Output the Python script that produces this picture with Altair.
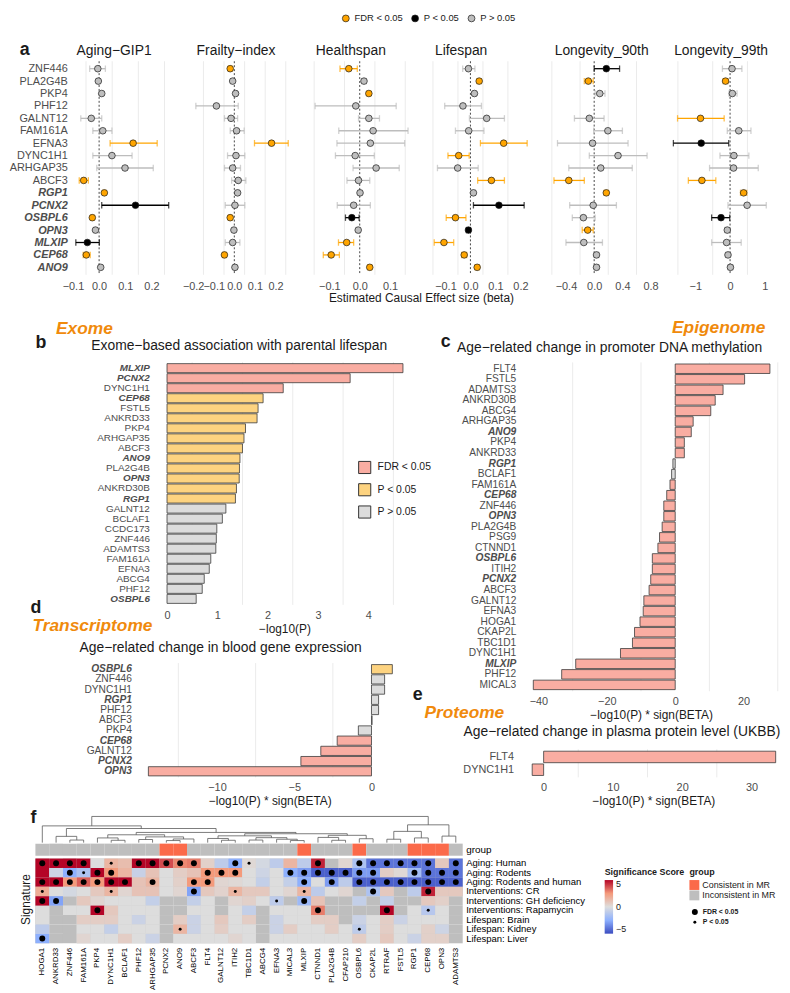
import json
import altair as alt
import pandas as pd

# ---------------- page geometry: reference pixels -> chart pixels
W, H = 782, 985
SX, SY = W / 790.0, H / 993.0


def px(v):
    return round(v * SX, 2)


def py(v):
    return round(v * SY, 2)


FONT = "Liberation Sans"
TXT = "#1A1A1A"
AXT = "#4D4D4D"
TITLE_ORANGE = "#F08A0C"
GRID = "#EBEBEB"

FDR, PS, NS = "FDR < 0.05", "P < 0.05", "P > 0.05"
CODE = {"F": FDR, "P": PS, "n": NS}

HIGHLIGHT = ["RGP1", "PCNX2", "OSBPL6", "OPN3", "MLXIP", "CEP68", "ANO9"]
HL_TEST = "indexof(%s, datum.value) >= 0" % json.dumps(HIGHLIGHT)

# ---------------- panel a : MR estimates
GENES_A = ["ZNF446", "PLA2G4B", "PKP4", "PHF12", "GALNT12", "FAM161A", "EFNA3", "DYNC1H1",
           "ARHGAP35", "ABCF3", "RGP1", "PCNX2", "OSBPL6", "OPN3", "MLXIP", "CEP68", "ANO9"]
A_NAMES = ["Aging−GIP1", "Frailty−index", "Healthspan", "Lifespan", "Longevity_90th", "Longevity_99th"]

AGING_BETA = [-0.005, -0.003, 0.010, None, -0.030, 0.014, 0.130, 0.049, 0.099, -0.059, 0.020, 0.139, -0.026, -0.014, -0.045, -0.049, 0.006]
AGING_LO = [-0.036, -0.010, 0.003, None, -0.070, -0.024, 0.042, -0.024, -0.009, -0.076, 0.014, 0.010, -0.032, -0.020, -0.089, -0.061, 0.000]
AGING_HI = [0.024, 0.004, 0.017, None, 0.010, 0.049, 0.222, 0.126, 0.207, -0.041, 0.026, 0.266, -0.020, -0.008, 0.001, -0.034, 0.012]
AGING_SIG = ["n", "n", "n", None, "n", "n", "F", "n", "n", "F", "F", "P", "F", "n", "P", "F", "n"]

FRAIL_BETA = [-0.020, -0.008, 0.006, -0.087, -0.016, 0.011, 0.181, 0.008, -0.008, 0.019, 0.016, 0.003, -0.020, -0.002, -0.008, -0.048, 0.003]
FRAIL_LO = [-0.028, -0.016, -0.002, -0.187, -0.048, -0.020, 0.098, -0.033, -0.048, -0.013, 0.008, -0.044, -0.028, -0.010, -0.044, -0.056, -0.005]
FRAIL_HI = [-0.012, 0.000, 0.014, 0.019, 0.016, 0.048, 0.262, 0.051, 0.030, 0.056, 0.024, 0.051, -0.012, 0.006, 0.027, -0.040, 0.011]
FRAIL_SIG = ["F", "n", "n", "n", "n", "n", "F", "n", "n", "n", "n", "n", "F", "n", "n", "F", "n"]

HEALTH_BETA = [-0.036, 0.014, 0.030, -0.013, 0.030, 0.044, 0.035, -0.015, 0.054, -0.004, 0.001, -0.020, -0.026, -0.005, -0.043, -0.094, 0.033]
HEALTH_LO = [-0.065, 0.006, 0.024, -0.147, -0.004, -0.069, -0.075, -0.080, -0.022, -0.042, -0.005, -0.074, -0.047, -0.011, -0.070, -0.120, 0.027]
HEALTH_HI = [-0.008, 0.022, 0.036, 0.120, 0.065, 0.159, 0.148, 0.048, 0.130, 0.033, 0.007, 0.035, -0.002, 0.001, -0.020, -0.067, 0.039]
HEALTH_SIG = ["F", "n", "F", "n", "n", "n", "n", "n", "n", "n", "n", "n", "P", "n", "F", "F", "F"]

LIFE_BETA = [-0.008, 0.035, 0.016, -0.030, 0.065, -0.007, 0.133, -0.047, -0.051, 0.084, 0.012, 0.114, -0.060, -0.008, -0.106, -0.025, 0.027]
LIFE_LO = [-0.031, 0.027, 0.008, -0.103, -0.004, -0.060, 0.040, -0.090, -0.132, 0.029, 0.004, 0.012, -0.097, -0.016, -0.145, -0.035, 0.019]
LIFE_HI = [0.018, 0.043, 0.024, 0.044, 0.136, 0.054, 0.227, -0.005, 0.031, 0.136, 0.020, 0.215, -0.018, 0.000, -0.067, -0.015, 0.035]
LIFE_SIG = ["n", "F", "n", "n", "n", "n", "F", "F", "n", "F", "n", "P", "F", "P", "F", "F", "F"]

L90_BETA = [0.172, -0.083, 0.079, None, -0.069, 0.194, -0.023, 0.338, 0.093, -0.360, 0.172, -0.014, -0.153, -0.092, -0.147, 0.033, 0.033]
L90_LO = [0.000, -0.140, 0.014, None, -0.280, -0.008, -0.520, -0.069, -0.360, -0.570, 0.140, -0.347, -0.310, -0.170, -0.400, 0.000, 0.000]
L90_HI = [0.360, -0.014, 0.153, None, 0.140, 0.400, 0.480, 0.750, 0.540, -0.140, 0.200, 0.315, 0.014, -0.014, 0.117, 0.066, 0.066]
L90_SIG = ["P", "F", "n", None, "n", "n", "n", "n", "n", "F", "F", "n", "n", "F", "n", "n", "n"]

L99_BETA = [0.056, -0.130, 0.066, None, -0.850, 0.250, -0.830, 0.110, 0.100, -0.810, 0.390, 0.490, -0.260, -0.080, -0.100, -0.060, 0.010]
L99_LO = [-0.220, -0.200, -0.030, None, -1.510, -0.080, -1.630, -0.290, -0.590, -1.200, 0.300, -0.060, -0.530, -0.150, -0.530, -0.130, -0.060]
L99_HI = [0.340, -0.060, 0.200, None, -0.170, 0.600, -0.040, 0.540, 0.810, -0.410, 0.480, 1.040, -0.010, -0.010, 0.320, 0.010, 0.080]
L99_SIG = ["n", "F", "n", None, "F", "n", "P", "n", "n", "F", "F", "n", "P", "n", "n", "n", "n"]

A_DATA = [
    (AGING_BETA, AGING_LO, AGING_HI, AGING_SIG),
    (FRAIL_BETA, FRAIL_LO, FRAIL_HI, FRAIL_SIG),
    (HEALTH_BETA, HEALTH_LO, HEALTH_HI, HEALTH_SIG),
    (LIFE_BETA, LIFE_LO, LIFE_HI, LIFE_SIG),
    (L90_BETA, L90_LO, L90_HI, L90_SIG),
    (L99_BETA, L99_LO, L99_HI, L99_SIG),
]
A_TICKS = [[-0.1, 0, 0.1, 0.2], [-0.2, -0.1, 0, 0.1, 0.2], [-0.1, 0, 0.1],
           [-0.1, 0, 0.1, 0.2], [-0.4, 0, 0.4, 0.8], [-1, 0, 1]]
A_MINOR = [[-0.05, 0.05, 0.15, 0.25], [-0.15, -0.05, 0.05, 0.15, 0.25], [-0.15, -0.05, 0.05, 0.15],
           [-0.15, -0.05, 0.05, 0.15], [-0.6, -0.2, 0.2, 0.6], [-1.5, -0.5, 0.5]]
A_FMT = [".1f", ".1f", ".1f", ".1f", ".1f", "d"]

# ---------------- panels b-e : bar charts
B_GENES = ["MLXIP", "PCNX2", "DYNC1H1", "CEP68", "FSTL5", "ANKRD33", "PKP4", "ARHGAP35", "ABCF3", "ANO9",
           "PLA2G4B", "OPN3", "ANKRD30B", "RGP1", "GALNT12", "BCLAF1", "CCDC173", "ZNF446", "ADAMTS3",
           "FAM161A", "EFNA3", "ABCG4", "PHF12", "OSBPL6"]
B_VALS = [4.69, 3.64, 2.31, 1.91, 1.81, 1.79, 1.56, 1.53, 1.50, 1.45, 1.44, 1.435, 1.38, 1.36,
          1.17, 1.10, 0.99, 0.98, 0.97, 0.87, 0.84, 0.74, 0.70, 0.58]
B_SIG = ["F", "F", "F", "P", "P", "P", "P", "P", "P", "P", "P", "P", "P", "P",
         "n", "n", "n", "n", "n", "n", "n", "n", "n", "n"]

C_GENES = ["FLT4", "FSTL5", "ADAMTS3", "ANKRD30B", "ABCG4", "ARHGAP35", "ANO9", "PKP4", "ANKRD33", "RGP1",
           "BCLAF1", "FAM161A", "CEP68", "ZNF446", "OPN3", "PLA2G4B", "PSG9", "CTNND1", "OSBPL6", "ITIH2",
           "PCNX2", "ABCF3", "GALNT12", "EFNA3", "HOGA1", "CKAP2L", "TBC1D1", "DYNC1H1", "MLXIP", "PHF12", "MICAL3"]
C_VALS = [27.7, 20.3, 14.0, 11.7, 10.4, 5.25, 4.7, 2.67, 2.67, -0.67, -1.05, -1.53, -2.48, -3.34, -3.34,
          -3.82, -4.58, -5.06, -6.69, -6.69, -7.16, -7.64, -9.17, -9.36, -10.3, -11.9, -12.5, -16.0,
          -29.1, -33.2, -41.5]
C_SIG = ["F", "F", "F", "F", "F", "F", "F", "F", "F", "n", "n", "F", "F", "F", "F", "F", "F", "F", "F", "F",
         "F", "F", "F", "F", "F", "F", "F", "F", "F", "F", "F"]

D_GENES = ["OSBPL6", "ZNF446", "DYNC1H1", "RGP1", "PHF12", "ABCF3", "PKP4", "CEP68", "GALNT12", "PCNX2", "OPN3"]
D_VALS = [1.35, 0.85, 0.85, 0.46, 0.46, 0.04, -0.85, -2.22, -3.28, -4.57, -14.44]
D_SIG = ["P", "n", "n", "n", "n", "n", "n", "F", "F", "F", "F"]

E_GENES = ["FLT4", "DYNC1H1"]
E_VALS = [33.5, -1.65]
E_SIG = ["F", "F"]

# ---------------- panel f : heatmap
HM_COLS = ["HOGA1", "ANKRD33", "ZNF446", "FAM161A", "PKP4", "DYNC1H1", "BCLAF1", "PHF12", "ARHGAP35",
           "PCNX2", "ANO9", "ABCF3", "FLT4", "GALNT12", "ITIH2", "TBC1D1", "ABCG4", "EFNA3", "MICAL3",
           "MLXIP", "CTNND1", "PLA2G4B", "CFAP210", "OSBPL6", "CKAP2L", "RTRAF", "FSTL5", "RGP1", "CEP68",
           "OPN3", "ADAMTS3"]
HM_ROWS = ["Aging: Human", "Aging: Rodents", "Aging: Rodents and human", "Interventions: CR",
           "Interventions: GH deficiency", "Interventions: Rapamycin", "Lifespan: Brain",
           "Lifespan: Kidney", "Lifespan: Liver"]
N = None
HM_HUMAN = [5, 5, 5, 5, 0, 1.5, 1.2, 5, 5, 3.8, 2.8, 3, 0.5, -1, -2.5, 0.2, -0.3, -1, 1.5, -1, 4.5, N, 0.3, -1.5, -4, -4, -4, -4, -4, 0.8, -4]
HM_RODENT = [5, -0.5, -2.5, -1.5, 5, 2.5, 1.5, -0.7, 1, 0, 0.6, 1, 2.5, 2.5, 2.5, 0, -0.5, 0, -2.5, -3, -4.5, -4.5, -4.5, -3, -3, 0.6, 0.2, -1.8, -4, -4, -4]
HM_BOTH = [5, 5, 2.5, 3.5, 2.5, 5, 5, 1, 1.5, 0, 0.5, 2.5, 2.5, 0.3, 0.2, 0, -0.8, 0, -0.8, -2.5, 0, -3, -1, -4.5, -4.5, -4.5, -4.5, -4.5, -4.5, -4.5, -4.5]
HM_CR = [1.8, 0, -0.3, 0, 0.8, 1.5, 0.3, 1, 1, 0, 0.3, -2.8, 0.8, 0.4, 1.5, 0.8, 0.8, 0, 0.3, 1.5, -1, 0, 0.3, N, -1.5, 0.8, N, -1, 4.5, 0.8, 0.8]
HM_GH = [5, -2.8, N, 0.8, 0.3, 0, 0, 0, -0.8, N, N, -0.8, 0, N, 0.3, 0.5, 0, -1, N, -2, 1, N, N, -0.8, N, -0.8, N, N, 0.8, 0.5, N]
HM_RAPA = [0, N, 0, 0, 5, 0.8, 0, 0, 0, N, N, 0, 0, N, 0, -0.8, N, 0, 0, 0, 3, N, N, N, N, 5, N, 0, -1.2, 0, N]
HM_BRAIN = [0, N, N, 0.6, 0.6, 0.6, 0, -0.6, 0, N, 0.6, -0.6, 0, 0.8, 0, 0.6, N, -0.6, 0, 0, 0.6, 0.6, N, -0.6, 0, 0.6, -0.6, 0, 0, 0, N]
HM_KIDNEY = [-1, N, N, 0, 0, -0.8, 0, 0, 0, N, 1.5, -0.6, 0, 0.6, 0, 0, N, -0.6, 0.6, 0, 0, 0.6, 0, -1, 0, 0.6, 0, 0, 0.5, -0.5, N]
HM_LIVER = [-2.5, N, N, 0.3, 0, 0, 0.6, 0, -0.6, N, 0, 0, 0, 0, 0.3, 0, N, 0, 0, 0, 0, 0, 0, 0.6, 0, 0.8, 0, -0.6, 0.5, 0.5, N]
HM_VALS = [HM_HUMAN, HM_RODENT, HM_BOTH, HM_CR, HM_GH, HM_RAPA, HM_BRAIN, HM_KIDNEY, HM_LIVER]
# F = FDR < 0.05 (large dot), P = P < 0.05 (small dot)
HM_SIG = ["FFFF.P.FFFFF..FP....F..FFFFFF.F",
          "..FPFF......FFF...FFFFFFF..FFFF",
          "FFFFFFF.F..FF......F.F.FFFFFFFF",
          "P....P.....F..P....P....F...F..",
          "FF...............P.F...........",
          "....F...............F....F..P..",
          "...............................",
          "..........P............P.......",
          "F.............................."]
CONSISTENT = ["PCNX2", "ANO9", "MLXIP", "OSBPL6", "RGP1", "CEP68", "OPN3"]

# dendrogram of the heatmap columns: [left, right, merge height]
C1 = ["PKP4", ["DYNC1H1", "BCLAF1", 0.9], 1.8]
C2 = [["PHF12", "ARHGAP35", 1.2], [["PCNX2", "ANO9", 0.8], "ABCF3", 1.4], 2.2]
C3 = ["FLT4", ["GALNT12", "ITIH2", 0.9], 1.6]
C4 = [["TBC1D1", "ABCG4", 1.0], ["EFNA3", ["MICAL3", "MLXIP", 0.8], 1.3], 1.9]
C5 = ["CTNND1", ["PLA2G4B", "CFAP210", 0.9], 2.0]
C6 = ["OSBPL6", "CKAP2L", 1.5]
C7 = [["RTRAF", "FSTL5", 1.3], ["RGP1", "CEP68", 1.8], 4.3]
C8 = ["OPN3", "ADAMTS3", 2.5]
TREE = [["HOGA1", [["ANKRD33", ["ZNF446", "FAM161A", 1.0], 2.4],
                   [[C1, C2, 3.0], [[C3, C4, 2.6], [C5, C6, 2.8], 3.4], 3.9], 5.4], 6.4],
        [C7, C8, 6.8], 10.0]

# ---------------- helpers
def gene_axis(x_ref, pad, size=11):
    return alt.Axis(orient="left", offset=-px(x_ref), title=None, domain=False, ticks=False, grid=False,
                    labelPadding=pad, labelFontSize=size, labelColor=AXT, labelFont=FONT, labelOverlap=False,
                    labelFontStyle={"condition": {"test": HL_TEST, "value": "italic"}, "value": "normal"},
                    labelFontWeight={"condition": {"test": HL_TEST, "value": "bold"}, "value": "normal"})


def value_axis(y_ref, values, fmt, pad):
    return alt.Axis(orient="bottom", offset=py(y_ref) - H, values=values, format=fmt, title=None,
                    domain=False, ticks=False, grid=False, labelPadding=pad, labelFontSize=11,
                    labelColor=AXT, labelFont=FONT, labelFlush=False, labelOverlap=False)


def text_layer(txt, x, y, size, weight="normal", style="normal", color=TXT, align="left",
               baseline="alphabetic", angle=0):
    kw = dict(font=FONT, fontSize=size, fontWeight=weight, fontStyle=style, color=color,
              align=align, baseline=baseline)
    if angle:
        kw["angle"] = angle
    return alt.Chart(pd.DataFrame({"t": [txt]})).mark_text(**kw).encode(
        text="t:N", x=alt.value(px(x)), y=alt.value(py(y)))


layers = []
texts = []

# ================= panel a
A_ZERO = [93, 231, 359, 472, 598.3, 737]
A_UNIT = [267, 210, 310, 255, 72, 35.5]
A_TOP, A_BOT = 49.1, 266.6
PT_FILL = alt.Scale(domain=[FDR, PS, NS], range=["#FFA500", "#000000", "#BEBEBE"])
LN_COL = alt.Scale(domain=[FDR, PS, NS], range=["#FFA500", "#000000", "#BDBDBD"])
ys_a = alt.Scale(type="point", domain=GENES_A, range=[py(A_TOP), py(A_BOT)], padding=0.6)

for i, (beta, lo, hi, sig) in enumerate(A_DATA):
    rows = [dict(gene=g, beta=b, lo=l, hi=h, sig=CODE[s])
            for g, b, l, h, s in zip(GENES_A, beta, lo, hi, sig) if b is not None]
    df = pd.DataFrame(rows)
    lmin, hmax = df["lo"].min(), df["hi"].max()
    span = hmax - lmin
    dom = [lmin - 0.05 * span, hmax + 0.05 * span]
    left = A_ZERO[i] + A_UNIT[i] * dom[0]
    right = A_ZERO[i] + A_UNIT[i] * dom[1]
    xs = alt.Scale(domain=dom, range=[px(left), px(right)], nice=False, zero=False)

    layers.append(alt.Chart(pd.DataFrame({"v": A_MINOR[i]})).mark_rule(color=GRID, strokeWidth=1).encode(
        x=alt.X("v:Q", scale=xs, axis=None), y=alt.value(py(A_TOP)), y2=alt.value(py(A_BOT))))
    layers.append(alt.Chart(pd.DataFrame({"v": [0]})).mark_rule(
        color="#333333", strokeDash=[2, 2], strokeWidth=0.9).encode(
        x=alt.X("v:Q", scale=xs, axis=value_axis(A_BOT, A_TICKS[i], A_FMT[i], py(272.3) - py(A_BOT))),
        y=alt.value(py(A_TOP)), y2=alt.value(py(A_BOT))))
    layers.append(alt.Chart(df).mark_rule(strokeWidth=1.3).encode(
        x=alt.X("lo:Q", scale=xs, axis=None), x2="hi:Q",
        y=alt.Y("gene:N", scale=ys_a, axis=None),
        color=alt.Color("sig:N", scale=LN_COL, legend=None)))
    caps = pd.concat([df[["gene", "sig"]].assign(v=df["lo"]), df[["gene", "sig"]].assign(v=df["hi"])])
    layers.append(alt.Chart(caps).mark_tick(thickness=1.3, size=6.5).encode(
        x=alt.X("v:Q", scale=xs, axis=None),
        y=alt.Y("gene:N", scale=ys_a, axis=None),
        color=alt.Color("sig:N", scale=LN_COL, legend=None)))
    legend = None
    if i == 0:
        legend = alt.Legend(orient="none", legendX=px(340), legendY=py(0.5), direction="horizontal",
                            title=None, labelFontSize=9.5, labelFont=FONT, labelColor=TXT,
                            symbolType="circle", symbolSize=48, symbolStrokeColor="#1A1A1A",
                            symbolStrokeWidth=0.7, symbolOpacity=1, labelOffset=4, columnPadding=6)
    layers.append(alt.Chart(df).mark_circle(size=45, opacity=1, stroke="#1A1A1A", strokeWidth=0.7).encode(
        x=alt.X("beta:Q", scale=xs, axis=None),
        y=alt.Y("gene:N", scale=ys_a, axis=gene_axis(left, px(left) - px(60.5)) if i == 0 else None),
        fill=alt.Fill("sig:N", scale=PT_FILL, legend=legend)))
    texts.append(text_layer(A_NAMES[i], left + 5.5, 42.7, 14))

texts.append(text_layer("a", 12, 42.5, 18, weight="bold"))
texts.append(text_layer("Estimated Causal Effect size (beta)", 422, 290, 12, align="center", baseline="middle"))

# ================= panels b-e
BAR_FILL = alt.Scale(domain=[FDR, PS, NS], range=["#F9ADA2", "#FDD380", "#DCDCDC"])


def bar_panel(genes, vals, sigs, g, legend=None):
    df = pd.DataFrame({"gene": genes, "val": vals, "sig": [CODE[s] for s in sigs]})
    vmin, vmax = min(0, min(vals)), max(0, max(vals))
    span = vmax - vmin
    dom = [vmin - 0.05 * span, vmax + 0.05 * span]
    left = g["zero"] + g["unit"] * dom[0]
    right = g["zero"] + g["unit"] * dom[1]
    step = (g["cN"] - g["c0"]) / (len(genes) - 1)
    top, bot = g["c0"] - 0.6 * step, g["cN"] + 0.6 * step
    xs = alt.Scale(domain=dom, range=[px(left), px(right)], nice=False, zero=False)
    ys = alt.Scale(type="band", domain=genes, range=[py(top), py(bot)], paddingInner=0.1, paddingOuter=0.15)
    grid = alt.Chart(pd.DataFrame({"v": g["minor"]})).mark_rule(color=GRID, strokeWidth=1).encode(
        x=alt.X("v:Q", scale=xs, axis=None), y=alt.value(py(top)), y2=alt.value(py(bot)))
    bars = alt.Chart(df).mark_bar(stroke="#3A3A3A", strokeWidth=0.8, opacity=1).encode(
        x=alt.X("val:Q", scale=xs, stack=None,
                axis=value_axis(bot, g["ticks"], "d", py(g["lab_top"]) - py(bot))),
        y=alt.Y("gene:N", scale=ys, sort=None,
                axis=gene_axis(left, px(left) - px(g["lab_end"]), size=g["lab_size"])),
        fill=alt.Fill("sig:N", scale=BAR_FILL, legend=legend))
    return [grid, bars]


B_GEOM = dict(zero=162.3, unit=51.35, c0=361.7, cN=596.7, lab_end=144.3, lab_top=607.3, lab_size=10,
              ticks=[0, 1, 2, 3, 4], minor=[0.5, 1.5, 2.5, 3.5, 4.5])
C_GEOM = dict(zero=681, unit=3.49, c0=362.3, cN=684.3, lab_end=518.3, lab_top=695.7, lab_size=10.3,
              ticks=[-40, -20, 0, 20], minor=[-30, -10, 10, 30])
D_GEOM = dict(zero=371, unit=15.77, c0=668.3, cN=772.3, lab_end=126, lab_top=782.3, lab_size=10.3,
              ticks=[-10, -5, 0], minor=[-12.5, -7.5, -2.5])
E_GEOM = dict(zero=546.7, unit=7.07, c0=757.7, cN=770.7, lab_end=516, lab_top=782.3, lab_size=11,
              ticks=[0, 10, 20, 30], minor=[5, 15, 25])

b_legend = alt.Legend(orient="none", legendX=px(357), legendY=py(455.8), title=None, symbolType="square",
                      symbolSize=150, symbolStrokeColor="#333333", symbolStrokeWidth=1, symbolOpacity=1,
                      labelFontSize=10.5, labelColor=TXT, labelFont=FONT, labelOffset=6, rowPadding=4.5)
layers += bar_panel(B_GENES, B_VALS, B_SIG, B_GEOM, b_legend)
layers += bar_panel(C_GENES, C_VALS, C_SIG, C_GEOM)
layers += bar_panel(D_GENES, D_VALS, D_SIG, D_GEOM)
layers += bar_panel(E_GENES, E_VALS, E_SIG, E_GEOM)

texts += [
    text_layer("Exome", 49, 326.7, 17.5, weight="bold", style="italic", color=TITLE_ORANGE),
    text_layer("b", 28, 341, 18, weight="bold"),
    text_layer("Exome−based association with parental lifespan", 85, 343.3, 14),
    text_layer("Epigenome", 773, 326, 17.5, weight="bold", style="italic", color=TITLE_ORANGE, align="right"),
    text_layer("c", 441.7, 340, 18, weight="bold"),
    text_layer("Age−related change in promoter DNA methylation", 458.3, 345, 14),
    text_layer("−log10(P)", 282.7, 627.3, 12, align="center", baseline="middle"),
    text_layer("d", 23, 610.7, 18, weight="bold"),
    text_layer("Transcriptome", 25, 629, 17.5, weight="bold", style="italic", color=TITLE_ORANGE),
    text_layer("Age−related change in blood gene expression", 73, 651, 14),
    text_layer("−log10(P) * sign(BETA)", 656.9, 715, 12, align="center", baseline="middle"),
    text_layer("e", 413, 699.3, 18, weight="bold"),
    text_layer("Proteome", 425, 718, 17.5, weight="bold", style="italic", color=TITLE_ORANGE),
    text_layer("Age−related change in plasma protein level (UKBB)", 465, 736.7, 14),
    text_layer("−log10(P) * sign(BETA)", 267.7, 803, 12, align="center", baseline="middle"),
    text_layer("−log10(P) * sign(BETA)", 659.3, 803, 12, align="center", baseline="middle"),
]

# ================= panel f
HM_LEFT, HM_RIGHT = 27.97, 464.1
HM_TOP, HM_BOT = 861.2, 947.5
GRP_TOP, GRP_BOT = 846.0, 858.3
DEN_TOP = 818.3

cells = []
for rname, vals, sigs in zip(HM_ROWS, HM_VALS, HM_SIG):
    for gname, v, s in zip(HM_COLS, vals, sigs):
        cells.append(dict(col=gname, row=rname, val=v, sig={"F": FDR, "P": PS}.get(s)))
hm = pd.DataFrame(cells)

hx = alt.Scale(type="band", domain=HM_COLS, range=[px(HM_LEFT), px(HM_RIGHT)], paddingInner=0, paddingOuter=0)
hy = alt.Scale(type="band", domain=HM_ROWS, range=[py(HM_TOP), py(HM_BOT)], paddingInner=0, paddingOuter=0)

col_axis = alt.Axis(orient="bottom", offset=py(HM_BOT) - H, labelAngle=270, labelAlign="right",
                    labelBaseline="middle", labelPadding=4, labelFontSize=8, labelColor="black",
                    labelFont=FONT, domain=False, ticks=False, title=None, labelOverlap=False)
row_axis = alt.Axis(orient="right", offset=px(HM_RIGHT) - W, labelPadding=3, labelFontSize=9.6,
                    labelColor="black", labelFont=FONT, domain=False, ticks=False, title=None,
                    labelOverlap=False)

layers.append(alt.Chart(hm).mark_rect(color="#BEBEBE").encode(
    x=alt.X("col:N", scale=hx, axis=col_axis, sort=None),
    y=alt.Y("row:N", scale=hy, axis=row_axis, sort=None)))

HEAT = alt.Scale(domain=[-5, -2.5, 0, 2.5, 5],
                 range=["#3B4CC0", "#8DB0FE", "#DDDDDD", "#F49A7B", "#B40426"],
                 interpolate="rgb", clamp=True)
heat_legend = alt.Legend(orient="none", legendX=px(609), legendY=py(871), title="Significance Score",
                         titleFontSize=9, titleFontWeight="bold", titleFont=FONT, titleColor=TXT,
                         titlePadding=3, direction="vertical", gradientLength=py(54.6),
                         gradientThickness=8.5, gradientStrokeWidth=0, values=[-5, 0, 5],
                         labelFontSize=9, labelColor=TXT, labelFont=FONT, labelOffset=3)
layers.append(alt.Chart(hm.dropna(subset=["val"])).mark_rect().encode(
    x=alt.X("col:N", scale=hx, axis=None, sort=None),
    y=alt.Y("row:N", scale=hy, axis=None, sort=None),
    color=alt.Color("val:Q", scale=HEAT, legend=heat_legend)))

dot_legend = alt.Legend(orient="none", legendX=px(697), legendY=py(911.5), title=None,
                        symbolFillColor="black", symbolStrokeColor="black", labelFontSize=7,
                        labelFontWeight="bold", labelFont=FONT, labelColor=TXT, labelOffset=4, rowPadding=0)
layers.append(alt.Chart(hm.dropna(subset=["sig"])).mark_circle(color="black", opacity=1).encode(
    x=alt.X("col:N", scale=hx, axis=None, sort=None),
    y=alt.Y("row:N", scale=hy, axis=None, sort=None),
    size=alt.Size("sig:O", scale=alt.Scale(domain=[FDR, PS], range=[36, 9]), legend=dot_legend)))

grp = pd.DataFrame({"col": HM_COLS, "lab": ["group"] * len(HM_COLS),
                    "g": ["Consistent in MR" if c in CONSISTENT else "Inconsistent in MR" for c in HM_COLS]})
grp_legend = alt.Legend(orient="none", legendX=px(695.5), legendY=py(871), title="group", titleFontSize=9,
                        titleFontWeight="bold", titleFont=FONT, titleColor=TXT, titlePadding=3,
                        symbolType="square", symbolSize=100, symbolStrokeWidth=0, symbolOpacity=1,
                        labelFontSize=9, labelFont=FONT, labelColor=TXT, rowPadding=0.5, labelOffset=3)
grp_axis = alt.Axis(orient="right", offset=px(HM_RIGHT) - W, labelPadding=3, labelFontSize=10,
                    labelColor="black", labelFont=FONT, domain=False, ticks=False, title=None)
layers.append(alt.Chart(grp).mark_rect().encode(
    x=alt.X("col:N", scale=hx, axis=None, sort=None),
    y=alt.Y("lab:N", scale=alt.Scale(type="band", domain=["group"], range=[py(GRP_TOP), py(GRP_BOT)],
                                     paddingInner=0, paddingOuter=0), axis=grp_axis),
    fill=alt.Fill("g:N", scale=alt.Scale(domain=["Consistent in MR", "Inconsistent in MR"],
                                         range=["#FB6A4A", "#BEBEBE"]), legend=grp_legend)))

segs = []


def walk(node):
    if isinstance(node, str):
        return float(HM_COLS.index(node)), 0.0
    l, r, h = node
    xl, hl = walk(l)
    xr, hr = walk(r)
    segs.append(dict(x1=xl, x2=xr, y1=h, y2=h))
    segs.append(dict(x1=xl, x2=xl, y1=hl, y2=h))
    segs.append(dict(x1=xr, x2=xr, y1=hr, y2=h))
    return (xl + xr) / 2.0, h


walk(TREE)
layers.append(alt.Chart(pd.DataFrame(segs)).mark_rule(color="#5A5A5A", strokeWidth=0.8).encode(
    x=alt.X("x1:Q", scale=alt.Scale(domain=[-0.5, len(HM_COLS) - 0.5], range=[px(HM_LEFT), px(HM_RIGHT)],
                                    nice=False, zero=False), axis=None),
    x2="x2:Q",
    y=alt.Y("y1:Q", scale=alt.Scale(domain=[0, 10], range=[py(GRP_TOP - 1), py(DEN_TOP)],
                                    nice=False, zero=False), axis=None),
    y2="y2:Q"))

texts += [
    text_layer("f", 23, 825, 18, weight="bold"),
    text_layer("Signature", 18, 903, 12, align="center", baseline="middle", angle=270),
]

chart = alt.layer(*(layers + texts)).resolve_scale(
    x="independent", y="independent", color="independent", fill="independent", size="independent"
).resolve_axis(x="independent", y="independent").resolve_legend(
    color="independent", fill="independent", size="independent"
).properties(
    width=W, height=H, padding=0, autosize=alt.AutoSizeParams(type="none")
).configure(font=FONT).configure_view(stroke=None)

chart.save("out.html", embed_options={"renderer": "svg", "actions": False})
